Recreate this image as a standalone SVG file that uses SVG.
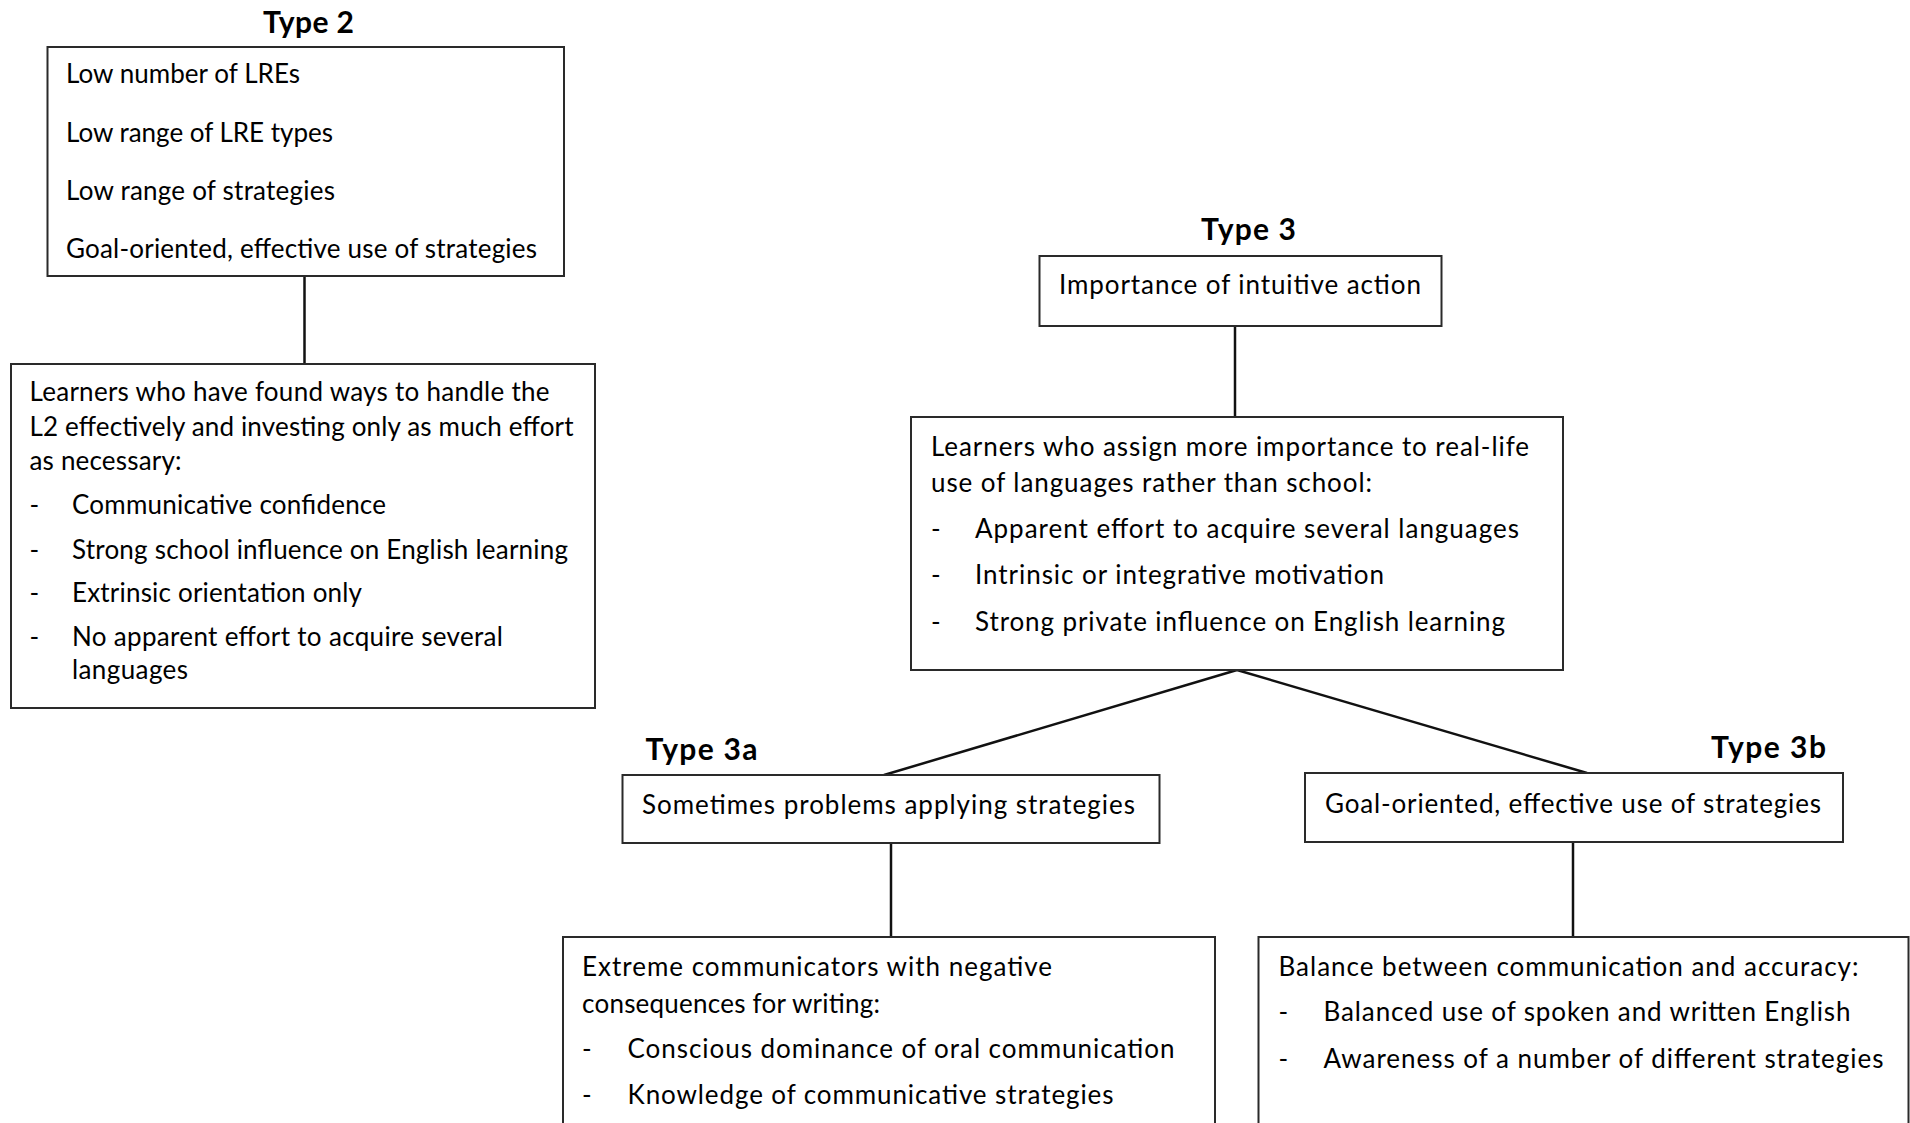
<svg xmlns="http://www.w3.org/2000/svg" width="1910" height="1123" viewBox="0 0 1910 1123">
<style>
  .box { fill: #ffffff; stroke: #2a2a2a; stroke-width: 2; }
  .t { font-family: Lato, "Liberation Sans", sans-serif; font-size: 26px; fill: #000000; transform: translate(0px, 1px); }
  .h { font-family: Lato, "Liberation Sans", sans-serif; font-size: 30px; font-weight: bold; fill: #000000; }
  .c { stroke: #111111; stroke-width: 2.5; fill: none; }
</style>
<rect width="1910" height="1123" fill="#ffffff"/>
<g id="connectors">
  <line class="c" x1="304.5" y1="276" x2="304.5" y2="364"/>
  <line class="c" x1="1235" y1="326" x2="1235" y2="417"/>
  <line class="c" x1="1237" y1="670" x2="884" y2="775"/>
  <line class="c" x1="1237" y1="670" x2="1587" y2="773"/>
  <line class="c" x1="891" y1="843" x2="891" y2="937"/>
  <line class="c" x1="1573" y1="842" x2="1573" y2="936"/>
</g>
<g id="type2">
  <text class="h" x="263" y="33" textLength="91">Type 2</text>
  <rect class="box" x="47.5" y="47" width="516.5" height="229"/>
  <text class="t" x="66" y="82" textLength="234">Low number of LREs</text>
  <text class="t" x="66" y="141" textLength="267">Low range of LRE types</text>
  <text class="t" x="66" y="199" textLength="269">Low range of strategies</text>
  <text class="t" x="66" y="257" textLength="471">Goal-oriented, effective use of strategies</text>
</g>
<g id="type2-detail">
  <rect class="box" x="11" y="364" width="584" height="344"/>
  <text class="t" x="29.5" y="400" textLength="520">Learners who have found ways to handle the</text>
  <text class="t" x="29.5" y="435" textLength="544">L2 effectively and investing only as much effort</text>
  <text class="t" x="29.5" y="469" textLength="152">as necessary:</text>
  <text class="t" x="29.5" y="513">-</text>
  <text class="t" x="72" y="513" textLength="314">Communicative confidence</text>
  <text class="t" x="29.5" y="558">-</text>
  <text class="t" x="72" y="558" textLength="496">Strong school influence on English learning</text>
  <text class="t" x="29.5" y="601">-</text>
  <text class="t" x="72" y="601" textLength="290">Extrinsic orientation only</text>
  <text class="t" x="29.5" y="645">-</text>
  <text class="t" x="72" y="645" textLength="431">No apparent effort to acquire several</text>
  <text class="t" x="72" y="678" textLength="116">languages</text>
</g>
<g id="type3">
  <text class="h" x="1201" y="240" textLength="95">Type 3</text>
  <rect class="box" x="1039.5" y="256" width="402" height="70"/>
  <text class="t" x="1059" y="293" textLength="362">Importance of intuitive action</text>
</g>
<g id="type3-detail">
  <rect class="box" x="911" y="417" width="652" height="253"/>
  <text class="t" x="931" y="455" textLength="598">Learners who assign more importance to real-life</text>
  <text class="t" x="931" y="491" textLength="441">use of languages rather than school:</text>
  <text class="t" x="931" y="537">-</text>
  <text class="t" x="975" y="537" textLength="544">Apparent effort to acquire several languages</text>
  <text class="t" x="931" y="583">-</text>
  <text class="t" x="975" y="583" textLength="409">Intrinsic or integrative motivation</text>
  <text class="t" x="931" y="630">-</text>
  <text class="t" x="975" y="630" textLength="530">Strong private influence on English learning</text>
</g>
<g id="type3a">
  <text class="h" x="645.5" y="760" textLength="112">Type 3a</text>
  <rect class="box" x="622.5" y="775" width="537" height="68"/>
  <text class="t" x="642" y="813" textLength="493">Sometimes problems applying strategies</text>
</g>
<g id="type3a-detail">
  <rect class="box" x="563" y="937" width="652" height="200"/>
  <text class="t" x="582" y="975" textLength="470">Extreme communicators with negative</text>
  <text class="t" x="582" y="1012" textLength="298">consequences for writing:</text>
  <text class="t" x="582" y="1057">-</text>
  <text class="t" x="627.5" y="1057" textLength="547">Conscious dominance of oral communication</text>
  <text class="t" x="582" y="1103">-</text>
  <text class="t" x="627.5" y="1103" textLength="486">Knowledge of communicative strategies</text>
</g>
<g id="type3b">
  <text class="h" x="1711" y="758" textLength="115">Type 3b</text>
  <rect class="box" x="1305" y="773" width="538" height="69"/>
  <text class="t" x="1325" y="811.5" textLength="496">Goal-oriented, effective use of strategies</text>
</g>
<g id="type3b-detail">
  <rect class="box" x="1258.5" y="937" width="650" height="200"/>
  <text class="t" x="1278.5" y="975" textLength="580">Balance between communication and accuracy:</text>
  <text class="t" x="1278.5" y="1020">-</text>
  <text class="t" x="1323.5" y="1020" textLength="527">Balanced use of spoken and written English</text>
  <text class="t" x="1278.5" y="1067">-</text>
  <text class="t" x="1323.5" y="1067" textLength="560">Awareness of a number of different strategies</text>
</g>
</svg>
